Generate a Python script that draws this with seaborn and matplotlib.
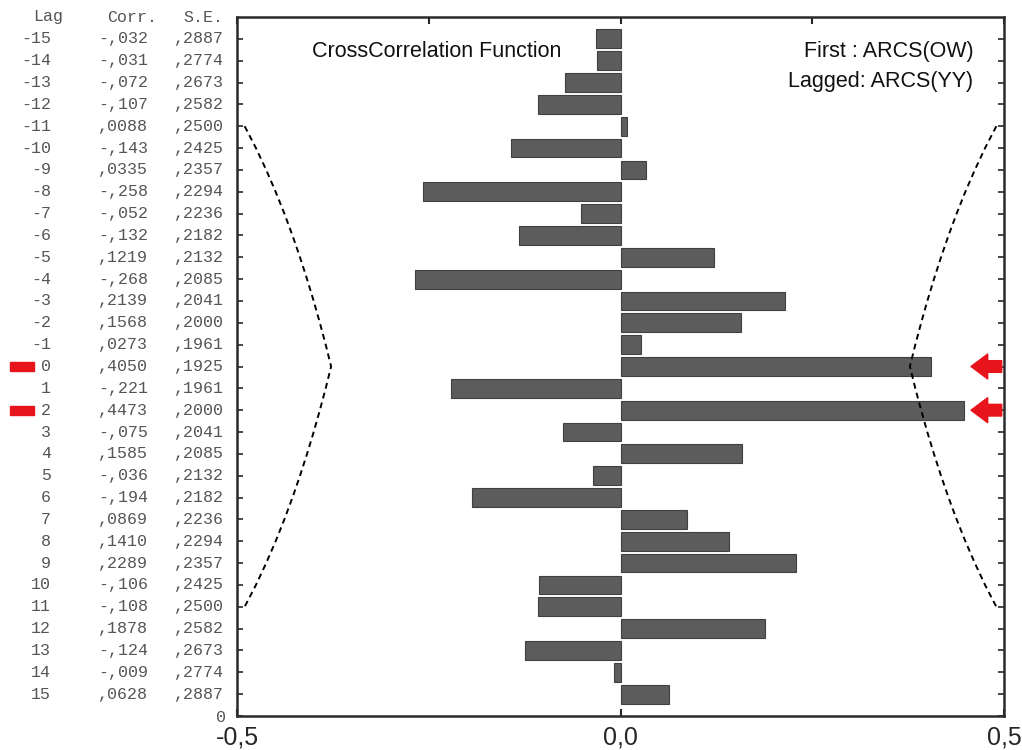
import seaborn as sns
import pandas as pd
import numpy as np
from matplotlib import pyplot as plt
from matplotlib import transforms
from matplotlib.patches import Rectangle
import matplotlib.ticker as mtick

lags = list(range(-15, 16))
corr = [-0.032, -0.031, -0.072, -0.107, 0.0088, -0.143, 0.0335, -0.258, -0.052, -0.132,
        0.1219, -0.268, 0.2139, 0.1568, 0.0273, 0.4050, -0.221, 0.4473, -0.075, 0.1585,
        -0.036, -0.194, 0.0869, 0.1410, 0.2289, -0.106, -0.108, 0.1878, -0.124, -0.009, 0.0628]
se = [0.2887, 0.2774, 0.2673, 0.2582, 0.2500, 0.2425, 0.2357, 0.2294, 0.2236, 0.2182,
      0.2132, 0.2085, 0.2041, 0.2000, 0.1961, 0.1925, 0.1961, 0.2000, 0.2041, 0.2085,
      0.2132, 0.2182, 0.2236, 0.2294, 0.2357, 0.2425, 0.2500, 0.2582, 0.2673, 0.2774, 0.2887]
marked_lags = [0, 2]
xtick_vals = [-0.5, 0.0, 0.5]
xtick_labels = ['-0,5', '0,0', '0,5']

sns.set_style('ticks')
plt.rcParams['font.family'] = ['Liberation Sans', 'DejaVu Sans']


def corr_fmt(v):
    return '-,' + f'{-v:.3f}'[2:] if v < 0 else ',' + f'{v:.4f}'[2:]


df = pd.DataFrame({'Lag': [str(l) for l in lags], 'Corr': corr, 'SE': se})

fig = plt.figure(figsize=(10.22, 7.5), dpi=100)
ax = fig.add_axes([237 / 1022, 1 - 716 / 750, (1004 - 237) / 1022, (716 - 17) / 750])

sns.barplot(data=df, x='Corr', y='Lag', orient='h', order=df['Lag'], color='#5c5c5c',
            saturation=1, width=0.86, edgecolor='#404040', linewidth=0.8, ax=ax)

# 95% limits, only where they fall inside the plot
rows = np.arange(len(lags))
lim = 1.96 * np.array(se)
inside = lim <= 0.5
ax.plot(lim[inside], rows[inside], ls=(0, (3, 2.2)), color='black', lw=1.4)
ax.plot(-lim[inside], rows[inside], ls=(0, (3, 2.2)), color='black', lw=1.4)

ax.set_xlim(-0.5, 0.5)
ax.set_ylim(31, -1)
ax.set_xlabel('')
ax.set_ylabel('')
ax.set_xticks(xtick_vals)
ax.set_xticklabels(xtick_labels, fontsize=18)
ax.xaxis.set_minor_locator(mtick.FixedLocator([-0.25, 0.25]))
ax.set_yticks(list(range(32)))
ax.set_yticklabels([''] * 31 + ['0'], fontsize=12, color='#555555', family='Liberation Mono')
ax.tick_params(axis='x', which='major', direction='in', top=True, bottom=True, length=5, width=1.5, pad=7)
ax.tick_params(axis='x', which='minor', direction='in', top=True, bottom=False, length=5, width=1.5)
ax.tick_params(axis='y', direction='in', left=True, right=True, length=4, width=1.2, pad=8)
for s in ax.spines.values():
    s.set_visible(True)
    s.set_linewidth(1.8)
    s.set_color('#2b2b2b')

# table of lags, correlations and standard errors on the left
tr = transforms.blended_transform_factory(fig.transFigure, ax.transData)
mono = dict(family='Liberation Mono', fontsize=12, color='#555555', va='center', transform=tr)
ax.text(33 / 1022, -1.0, 'Lag', ha='left', **mono)
ax.text(157 / 1022, -1.0, 'Corr.', ha='right', **mono)
ax.text(223 / 1022, -1.0, 'S.E.', ha='right', **mono)
for i, (l, c, s) in enumerate(zip(lags, corr, se)):
    ax.text(51 / 1022, i, str(l), ha='right', **mono)
    ax.text(148 / 1022, i, corr_fmt(c), ha='right', **mono)
    ax.text(224 / 1022, i, ',' + f'{s:.4f}'[2:], ha='right', **mono)

for l in marked_lags:
    i = lags.index(l)
    ax.add_patch(Rectangle((10 / 1022, i - 0.2), 24 / 1022, 0.4, transform=tr,
                           color='#e8141c', clip_on=False))
    ax.annotate('', xy=(0.457, i), xytext=(0.497, i),
                arrowprops=dict(arrowstyle='simple,head_length=0.6,head_width=0.9,tail_width=0.42',
                                color='#e8141c', mutation_scale=20, shrinkA=0, shrinkB=0))

ax.text(0.098, 0.95, 'CrossCorrelation Function', transform=ax.transAxes, fontsize=15.5,
        ha='left', va='center', color='#111111')
ax.text(0.96, 0.95, 'First : ARCS(OW)', transform=ax.transAxes, fontsize=15.5,
        ha='right', va='center', color='#111111')
ax.text(0.96, 0.908, 'Lagged: ARCS(YY)', transform=ax.transAxes, fontsize=15.5,
        ha='right', va='center', color='#111111')

fig.savefig('out.png', dpi=100)
